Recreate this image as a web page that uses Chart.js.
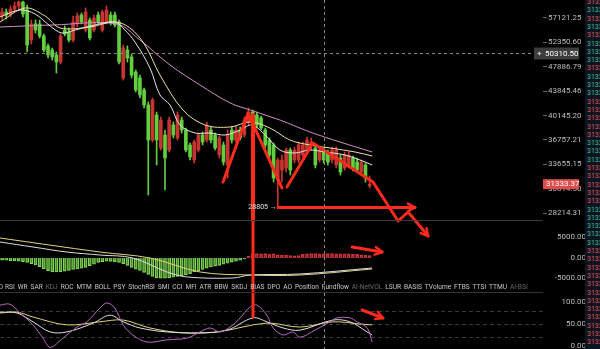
<!DOCTYPE html>
<html><head><meta charset="utf-8">
<script src="https://cdn.jsdelivr.net/npm/chart.js@4.4.0/dist/chart.umd.min.js"></script>
<style>
html,body{margin:0;padding:0;background:#000;width:600px;height:349px;overflow:hidden;font-family:Roboto,sans-serif}
#wrap{position:relative;width:600px;height:349px;background:#000}
canvas{position:absolute}
#cMain{left:0;top:0;z-index:3}
#cMacd{left:0;top:221px;z-index:1}
#cKdj{left:0;top:281px;z-index:2}
#tabs{position:absolute;left:5px;top:281px;width:523px;height:12px;display:flex;justify-content:space-between;align-items:center;z-index:4;font-size:6.6px;color:#c8c8c8;white-space:nowrap}
#tabFirst{position:absolute;right:597px;top:281px;height:12px;line-height:12px;font-size:6.6px;color:#c8c8c8;z-index:4}
#book{position:absolute;left:585px;top:0;width:15px;height:349px;background:#0b1420;overflow:hidden;z-index:5}
#book div{position:absolute;left:2px;font-size:7px;line-height:8px;white-space:nowrap}
</style></head>
<body><div id="wrap">
<canvas id="cMacd" width="586" height="60"></canvas>
<canvas id="cKdj" width="586" height="68"></canvas>
<canvas id="cMain" width="586" height="240"></canvas>
<div id="tabFirst">MACD</div>
<div id="tabs"></div>
<div id="book"></div>
</div>
<script>
// ---------- DATA ----------
const candleOpen = [57537,58375,57744,59010,59650,60520,58795,52756,55897,55897,
53525,51626,50884,49971,48725,54697,54305,52756,55897,57744,
54697,56710,54697,57744,54697,56304,57744,57744,56304,45988,
50884,49613,46996,45988,44034,41711,36755,40230,35708,37425,
35450,38802,37023,39510,38107,36096,34192,35450,37425,36755,
38107,37425,34815,36096,33579,38107,36755,38107,37425,39227,
40670,40230,39798,38107,36755,36096,31807,32978,33218,35450,
34192,34192,34815,35450,36096,35708,34192,35450,35196,34192,
33579,34441,33218,33579,34441,33947,32742,33579,31125];
const candleClose = [58375,57744,59010,59650,60520,57955,51811,55897,54697,53525,
50884,49971,49613,48725,53525,53913,52756,56304,57537,56304,
58375,53140,57121,56304,58375,58795,56304,55694,48725,51255,
49434,46487,44034,43246,41711,36755,42471,36755,39510,34441,
39510,37425,40230,38107,35450,34566,36491,37425,36491,38802,
36755,35708,37023,33947,37425,36755,38107,37023,39510,40670,
39510,38802,38385,36096,34815,32039,34192,34192,35450,32978,
35450,36096,36096,36755,36491,33579,35450,34192,33947,35450,
35450,32742,34815,34815,33218,32978,33947,32039,31333.37];
const candleHigh = [59225,59010,59650,60520,60700,60700,59870,56710,56710,56710,
53913,52000,51255,50519,53913,55495,55096,57537,58165,58165,
59225,57121,57744,58375,58795,59650,58375,58375,56710,51811,
51626,50154,47335,46487,44355,42167,42781,40670,39942,38107,
39942,39227,40670,39942,38385,36360,36755,37698,37834,39227,
38524,37698,37291,36491,38107,38524,38663,38524,39942,41263,
40964,40670,40086,38385,37023,36360,34441,34815,35708,35708,
35838,36491,36491,37157,37023,35967,35838,35708,35450,35838,
35838,34815,35196,35196,34690,34441,34192,33824,32271];
const candleLow = [56710,56915,57330,58375,58795,57330,50519,52000,54109,53140,
50519,49434,49077,46826,48374,53525,52378,52378,55295,55897,
54305,52756,54305,55897,54305,55897,55694,55295,48374,45655,
48725,45988,43719,42781,41263,30129,36491,33579,35450,30678,
35196,37023,36755,37698,35196,34192,33824,35196,36096,36491,
36360,35450,34441,33579,32039,36360,36491,36755,37157,38802,
38802,38385,38107,35708,34441,31579,28805,31579,32742,32387,
33824,33824,34566,35196,35450,33218,33947,33824,33579,33824,
33218,32387,32978,33218,32860,32742,32387,31579,30902];

// moving averages (read at sparse candle positions)
const maWhiteX = [-0.5,4.3,7.9,11.5,14.3,17.5,22.2,27.0,29.4,31.8,35.4,37.8,40.2,42.6,46.2,49.8,53.4,57,59.8,63,66.5,70.1,73.7,77.3,82.1,85.7,88.6];
const maWhiteY = [57330,58795,57955,55495,54109,54697,55694,56304,54697,52378,47680,43246,41711,38802,37698,37698,37425,38107,38802,37425,35450,35069,35450,35196,34815,34192,33579];
const maYellowX = [-0.5,5.5,10.3,13.9,21,27,30.6,34.2,37.8,43.3,48.6,54.6,59.4,64.1,68.9,73.7,78.5,84.5,88.6];
const maYellowY = [56304,59225,57537,55096,55295,56304,55096,51811,46487,40964,38802,38524,39227,38385,36755,36096,35708,35196,34690];
const maPinkX = [-0.5,12.2,27.5,33,40.2,47.4,54.6,59.4,66.5,73.7,80.9,88.6];
const maPinkY = [55295,55694,55895,52756,48198,44837,42015,40964,39510,37834,36491,35196];

// price axis
const priceTicks = [57121.25,52350.60,47886.79,43845.46,40145.20,36757.21,33655.15,30814.50,28214.31];
const priceTickLabels = ['57121.25','52350.60','47886.79','43845.46','40145.20','36757.21','33655.15','30814.50','28214.31'];
const lastPriceLabel = '31333.37';
const crossPrice = 50310.50, crossPriceLabel = '50310.50', crossIndex = 77.07;
const lowIndex = 66, lowPrice = 28805, lowLabel = '28805 →';

// MACD
const macdHist = [-500,-550,-650,-700,-750,-900,-1100,-1400,-1700,-2100,
-2600,-3100,-3400,-3400,-3350,-3200,-3000,-2800,-2650,-2500,
-2300,-1900,-1500,-1100,-900,-800,-850,-950,-1100,-1400,
-1800,-2300,-2700,-3000,-3500,-4000,-4500,-4800,-4900,-4900,
-4850,-4700,-4500,-4300,-4100,-3800,-3400,-3100,-2800,-2500,
-2200,-2000,-1800,-1500,-1250,-1000,-750,-500,-250,400,
900,1100,1000,1100,900,1000,800,700,700,600,
500,600,900,1000,1100,1100,1000,1000,1100,1100,
1000,1000,1000,1000,900,900,800,700,600];
const difX = [-0.5,7.4,15.5,23.4,31.3,39.5,44.3,55.3,59.4,71.3,88.6];
const difY = [3900,2680,1460,730,0,-3410,-4630,-4880,-4150,-3900,-2440];
const deaX = [-0.5,23.4,35.4,47.4,59.4,71.3,88.6];
const deaY = [4880,1460,0,-3410,-4150,-4150,-2680];
const macdTicks = [5000,0,-5000];
const macdTickLabels = ['5000.00','0.00','-5000.00'];

// KDJ
const jX = [-0.5,1.9,4.3,7.4,9.8,11.5,14.6,17.9,20.3,23.4,25.1,27,29,31.3,34.7,39.5,44.3,47.4,49.8,52.2,55.3,57,59.4,61,63.4,64.9,67.3,69.6,71.3,74.9,78.5,80.2,83.3,85,87.4,88.6];
const jY = [93,95,75,48,18,-3,18,43,55,86,98,86,48,25,9,14,18,32,41,32,48,64,89,93,70,41,25,32,20,36,55,64,64,55,41,9];
const kX = [-0.5,3.6,7.4,11.5,15.5,21.8,25.8,29,33,39.5,47.4,53.8,60.1,63.4,67.3,71.3,79.2,83.3,87.4,88.6];
const kY = [77,75,55,32,32,52,70,55,41,32,30,36,64,55,41,36,59,55,32,25];
const dX = [-0.5,3.6,7.4,15.5,23.4,29,35.4,43.3,51.5,63.4,71.3,79.2,85.7,88.6];
const dY = [75,77,66,48,55,59,41,30,32,52,43,55,50,48];
const kdjLevels = [80,50,20];
const kdjTicks = [100,50,0];
const kdjTickLabels = ['100.00','50.00','0.00'];

// hand-drawn red annotations (index, value)
const zigAX = [52.9,58.9,67.0], zigAY = [31579,40523,30902];
const zigBX = [68.2,74.4,88.8,94.8,97.2,102.0], zigBY = [31013,36360,31579,27428,28335,25981];
const lowLineX = [66.05,98.85], lowLineY = [28805,28805];
const vertX = 60.07;
const vertMainY = [40230,15000], vertMacdY = [20000,-20000], vertKdjY = [1000,66];
const macdArrowX = [83.8,91.0], macdArrowY = [2683,1463];
const kdjArrowX = [86.2,91.2], kdjArrowY = [81.8,63.6];

// indicator tabs and order book
const tabNames = ['RSI','WR','SAR','KDJ','ROC','MTM','BOLL','PSY','StochRSI','SMI','CCI','MFI','ATR','BBW','SKDJ','BIAS','DPO','AO','Position','Fundflow','AI-NetVOL','LSUR','BASIS','TVolume','FTBS','TTSI','TTMU','AI-BSI'];
const tabDim = ['KDJ','AI-NetVOL','AI-BSI'];
const bookSides = 'rgrgrgggrgggrrrrrgggrrrrrgggggrrrrrrrrrrrr';
const bookPrices = ['31332.9','31333.1','31332.8','31333.0','31332.7','31333.2'];

// ---------- RENDER ----------
Chart.defaults.font.family = 'Roboto';
Chart.defaults.color = '#bdbdbd';
const RED = '#ff2b1c';
const upColor = '#c8342f', downColor = '#62cf3e';
const pairs = (xs, ys) => xs.map((x, i) => ({x: x, y: ys[i]}));
const isUp = i => candleClose[i] >= candleOpen[i];
const xCfg = () => ({type:'linear', min:-0.5, max:129.5, offset:false, display:false, grid:{display:false}});
const lineDs = (xs, ys, color, extra) => Object.assign({type:'line', data:pairs(xs, ys), borderColor:color, borderWidth:1, pointRadius:0, tension:0.35, order:1}, extra || {});
const redDs = (xs, ys, extra) => Object.assign({type:'line', data:pairs(xs, ys), borderColor:RED, borderWidth:3, pointRadius:0, tension:0, order:0, borderCapStyle:'round', borderJoinStyle:'round'}, extra || {});

const arrowPlugin = {
  id:'arrows',
  afterDatasetsDraw(chart) {
    const ctx = chart.ctx;
    chart.data.datasets.forEach((ds, di) => {
      if (!ds.arrowHead) return;
      const pts = chart.getDatasetMeta(di).data, n = pts.length;
      const p1 = pts[n-1], p0 = pts[n-2];
      const ang = Math.atan2(p1.y - p0.y, p1.x - p0.x), L = 8;
      ctx.save();
      ctx.strokeStyle = RED; ctx.lineWidth = 2.5; ctx.lineCap = 'round'; ctx.lineJoin = 'round';
      ctx.beginPath();
      ctx.moveTo(p1.x - L*Math.cos(ang-0.5), p1.y - L*Math.sin(ang-0.5));
      ctx.lineTo(p1.x, p1.y);
      ctx.lineTo(p1.x - L*Math.cos(ang+0.5), p1.y - L*Math.sin(ang+0.5));
      ctx.stroke();
      ctx.restore();
    });
  }
};
function fixAxis(width) {
  return function(s) { s.width = width; s.paddingTop = 0; s.paddingBottom = 0; };
}
function dashV(ctx, x, y0, y1) {
  ctx.save(); ctx.strokeStyle = '#8a8a8a'; ctx.lineWidth = 1; ctx.setLineDash([3,3]);
  ctx.beginPath(); ctx.moveTo(Math.round(x)+0.5, y0); ctx.lineTo(Math.round(x)+0.5, y1); ctx.stroke(); ctx.restore();
}

// main chart
const mainOverlay = {
  id:'mainOverlay',
  afterDraw(chart) {
    const {ctx, chartArea:a, scales:{x, y}} = chart;
    ctx.save();
    ctx.strokeStyle = '#3c3c3c'; ctx.lineWidth = 1;
    ctx.beginPath(); ctx.moveTo(0, a.bottom+0.5); ctx.lineTo(a.right, a.bottom+0.5); ctx.stroke();
    const cx = x.getPixelForValue(crossIndex), cy = Math.round(y.getPixelForValue(crossPrice))+0.5;
    dashV(ctx, cx, a.top, a.bottom);
    ctx.strokeStyle = '#8a8a8a'; ctx.setLineDash([3,3]);
    ctx.beginPath(); ctx.moveTo(a.left, cy); ctx.lineTo(a.right-9, cy); ctx.stroke();
    ctx.setLineDash([]);
    // crosshair price box
    ctx.fillStyle = '#3d3d3d'; ctx.fillRect(a.right-9, cy-6, 45, 12);
    ctx.fillStyle = '#ffffff'; ctx.font = '8px Roboto'; ctx.textBaseline = 'middle'; ctx.textAlign = 'left';
    ctx.fillText('+', a.right-6, cy);
    ctx.fillText(crossPriceLabel, a.right+2, cy);
    // last price box
    const py = y.getPixelForValue(candleClose[candleClose.length-1]);
    ctx.fillStyle = '#e04c4c'; ctx.fillRect(a.right, py-5, 36, 10);
    ctx.fillStyle = '#ffffff'; ctx.fillText(lastPriceLabel, a.right+3, py);
    // low marker
    ctx.font = '7px Roboto'; ctx.textAlign = 'right'; ctx.fillStyle = '#e6e6e6';
    ctx.fillText(lowLabel, x.getPixelForValue(lowIndex)-1, y.getPixelForValue(lowPrice));
    ctx.restore();
  }
};
const idx = candleOpen.map((_, i) => i);
new Chart(document.getElementById('cMain'), {
  type:'bar',
  data:{datasets:[
    redDs(zigAX, zigAY),
    redDs(zigBX, zigBY, {clip:false, arrowHead:true}),
    redDs(lowLineX, lowLineY, {arrowHead:true}),
    redDs([vertX, vertX], vertMainY, {borderWidth:4}),
    lineDs(maWhiteX, maWhiteY, '#e6e6e6'),
    lineDs(maYellowX, maYellowY, '#eee09a'),
    lineDs(maPinkX, maPinkY, '#cf8ec6'),
    {type:'bar', data:idx.map(i => ({x:i, y:[candleOpen[i], candleClose[i]]})), barThickness:3, grouped:false, order:2,
     backgroundColor: c => isUp(c.dataIndex) ? upColor : downColor},
    {type:'bar', data:idx.map(i => ({x:i, y:[candleLow[i], candleHigh[i]]})), barThickness:1, grouped:false, order:3,
     backgroundColor: c => isUp(c.dataIndex) ? upColor : downColor}
  ]},
  options:{
    responsive:false, animation:false, devicePixelRatio:1, events:[],
    layout:{padding:{left:0, top:0, right:0, bottom:20}},
    plugins:{legend:{display:false}, tooltip:{enabled:false}},
    scales:{
      x:xCfg(),
      y:{type:'logarithmic', position:'right', min:27527, max:60960, beginAtZero:false,
         afterBuildTicks: s => { s.ticks = priceTicks.map(v => ({value:v})); },
         afterFit: fixAxis(43),
         border:{display:false},
         grid:{drawOnChartArea:false, drawTicks:true, tickLength:4, color:'#666'},
         ticks:{autoSkip:false, padding:1, color:'#bdbdbd', font:{size:8}, callback:(v, i) => priceTickLabels[i]}}
    }
  },
  plugins:[arrowPlugin, mainOverlay]
});

// MACD chart
const macdOverlay = {
  id:'macdOverlay',
  afterDraw(chart) {
    const {ctx, chartArea:a, scales:{x}} = chart;
    dashV(ctx, x.getPixelForValue(crossIndex), a.top, a.bottom);
  }
};
new Chart(document.getElementById('cMacd'), {
  type:'bar',
  data:{datasets:[
    redDs([vertX, vertX], macdArrowY.length ? vertMacdY : vertMacdY),
    redDs(macdArrowX, macdArrowY, {arrowHead:true}),
    lineDs(difX, difY, '#dcdcdc'),
    lineDs(deaX, deaY, '#e2d283'),
    {type:'bar', data:idx.map(i => ({x:i, y:macdHist[i]})), barThickness:3, order:2, borderWidth:1,
     backgroundColor: c => macdHist[c.dataIndex] < 0 ? 'rgba(60,130,30,0.55)' : 'rgba(0,0,0,0)',
     borderColor: c => macdHist[c.dataIndex] < 0 ? '#86d85a' : '#c8343a'}
  ]},
  options:{
    responsive:false, animation:false, devicePixelRatio:1, events:[],
    layout:{padding:0},
    plugins:{legend:{display:false}, tooltip:{enabled:false}},
    scales:{
      x:xCfg(),
      y:{type:'linear', position:'right', min:-5610, max:9024, beginAtZero:false,
         afterBuildTicks: s => { s.ticks = macdTicks.map(v => ({value:v})); },
         afterFit: fixAxis(43),
         border:{display:false}, grid:{display:false},
         ticks:{autoSkip:false, padding:4, crossAlign:'far', color:'#bdbdbd', font:{size:8}, callback:(v, i) => macdTickLabels[i]}}
    }
  },
  plugins:[arrowPlugin, macdOverlay]
});

// KDJ chart
const kdjOverlay = {
  id:'kdjOverlay',
  beforeDatasetsDraw(chart) {
    const {ctx, chartArea:a, scales:{y}} = chart;
    ctx.save(); ctx.strokeStyle = '#3a3a3a'; ctx.lineWidth = 1; ctx.setLineDash([4,3]);
    kdjLevels.forEach(v => { const yy = Math.round(y.getPixelForValue(v))+0.5; ctx.beginPath(); ctx.moveTo(a.left, yy); ctx.lineTo(a.right, yy); ctx.stroke(); });
    ctx.restore();
  },
  afterDraw(chart) {
    const {ctx, chartArea:a, scales:{x}} = chart;
    ctx.save(); ctx.strokeStyle = '#333'; ctx.lineWidth = 1;
    ctx.beginPath(); ctx.moveTo(0, a.top-0.5); ctx.lineTo(a.right, a.top-0.5); ctx.stroke(); ctx.restore();
    dashV(ctx, x.getPixelForValue(crossIndex), 0, a.bottom);
  }
};
new Chart(document.getElementById('cKdj'), {
  type:'line',
  data:{datasets:[
    redDs([vertX, vertX], vertKdjY, {clip:false}),
    redDs(kdjArrowX, kdjArrowY, {arrowHead:true}),
    lineDs(jX, jY, '#b866c2'),
    lineDs(kX, kY, '#e0e0e0'),
    lineDs(dX, dY, '#e2d27a')
  ]},
  options:{
    responsive:false, animation:false, devicePixelRatio:1, events:[],
    layout:{padding:{top:12, bottom:0, left:0, right:0}},
    plugins:{legend:{display:false}, tooltip:{enabled:false}},
    scales:{
      x:xCfg(),
      y:{type:'linear', position:'right', min:-6.8, max:120.5,
         afterBuildTicks: s => { s.ticks = kdjTicks.map(v => ({value:v})); },
         afterFit: fixAxis(43),
         border:{display:false}, grid:{display:false},
         ticks:{autoSkip:false, padding:11, crossAlign:'far', color:'#bdbdbd', font:{size:8}, callback:(v, i) => kdjTickLabels[i]}}
    }
  },
  plugins:[arrowPlugin, kdjOverlay]
});

// tabs
const tabs = document.getElementById('tabs');
tabNames.forEach(n => { const s = document.createElement('span'); s.textContent = n; if (tabDim.includes(n)) s.style.color = '#6a6a6a'; tabs.appendChild(s); });
// order book strip
const book = document.getElementById('book');
for (let k = 0; k < bookSides.length; k++) {
  const d = document.createElement('div');
  d.textContent = bookPrices[k % bookPrices.length];
  d.style.top = (k*8.3 - 2) + 'px';
  d.style.color = bookSides[k] === 'r' ? '#e0565c' : '#3dbf8c';
  book.appendChild(d);
}
</script>
</body></html>
